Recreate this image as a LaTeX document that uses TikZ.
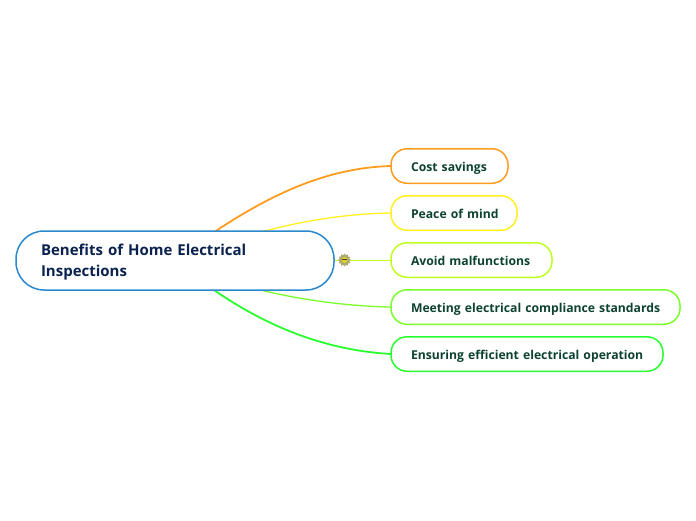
\documentclass[tikz,border=0pt]{standalone}
\usepackage{fontspec}
\setmainfont{Open Sans}
\usetikzlibrary{shapes.geometric,positioning}
\definecolor{rootblue}{HTML}{2A88CF}
\definecolor{roottext}{HTML}{0B2150}
\definecolor{leaftext}{HTML}{0D4232}
\definecolor{costcol}{HTML}{FF9C1E}
\definecolor{peacecol}{HTML}{FFF01E}
\definecolor{avoidcol}{HTML}{BEFF1E}
\definecolor{meetcol}{HTML}{7AFF2A}
\definecolor{ensurecol}{HTML}{28FF2E}
\tikzset{
  rootbox/.style = {draw=rootblue, fill=white, line width=1.5pt, outer sep=0pt, rounded corners=28pt, anchor=west, align=left, minimum height=59pt, text width=268pt, text height=10pt, text depth=21pt, inner xsep=25pt, inner ysep=0pt, text=roottext, font=\bfseries\fontsize{15}{21}\selectfont},
  leafbox/.style = {draw=#1, fill=white, line width=1.5pt, outer sep=0pt, rounded corners=16pt, anchor=west, align=left, minimum height=34.5pt, text height=10pt, text depth=0pt, inner xsep=20pt, inner ysep=0pt, text=leaftext, font=\bfseries\fontsize{12.2}{14}\selectfont},
  branch/.style = {draw=#1, line width=1.3pt}
}

\begin{document}
\begin{tikzpicture}[x=1pt,y=-1pt]
\useasboundingbox (0,0) rectangle (696,520);
\coordinate (hub) at (175,260);
% branches first, the boxes cover their start
\draw [branch=costcol, line width=1.8pt] (hub) .. controls (255,200) and (320,168) .. (391,166);
\draw [branch=peacecol] (hub) .. controls (270,224) and (335,214) .. (391,213);
\draw [branch=avoidcol, line width=1pt] (hub) -- (391,260);
\draw [branch=meetcol] (hub) .. controls (248,295) and (335,306) .. (391,307);
\draw [branch=ensurecol, line width=1.8pt] (hub) .. controls (248,322) and (320,350) .. (391,354);
\node [rootbox] (root) at (16,260.5) {Benefits of Home Electrical\\Inspections};
\node [leafbox=costcol, text width=77pt] (cost) at (391,166) {\mbox{Cost savings}};
\node [leafbox=peacecol, text width=86pt] (peace) at (391,213) {\mbox{Peace of mind}};
\node [leafbox=avoidcol, text width=121pt] (avoid) at (391,260) {\mbox{Avoid malfunctions}};
\node [leafbox=meetcol, text width=249pt] (meet) at (391,307) {\mbox{Meeting electrical compliance standards}};
\node [leafbox=ensurecol, text width=232pt] (ensure) at (391,354) {\mbox{Ensuring efficient electrical operation}};
% small sun sits on the avoid branch
\node [star, star points=12, star point ratio=1.35, fill=black!55!yellow!70!white, minimum size=13pt, inner sep=0pt] (sun) at (344.5,260) {};
\node [circle, fill=yellow!85!black, minimum size=6pt, inner sep=0pt] (suncore) at (sun.center) {};
\node [rectangle, fill=black!75, minimum width=5pt, minimum height=1.5pt, inner sep=0pt] (sunband) at (344.5,259.5) {};
\end{tikzpicture}
\end{document}
